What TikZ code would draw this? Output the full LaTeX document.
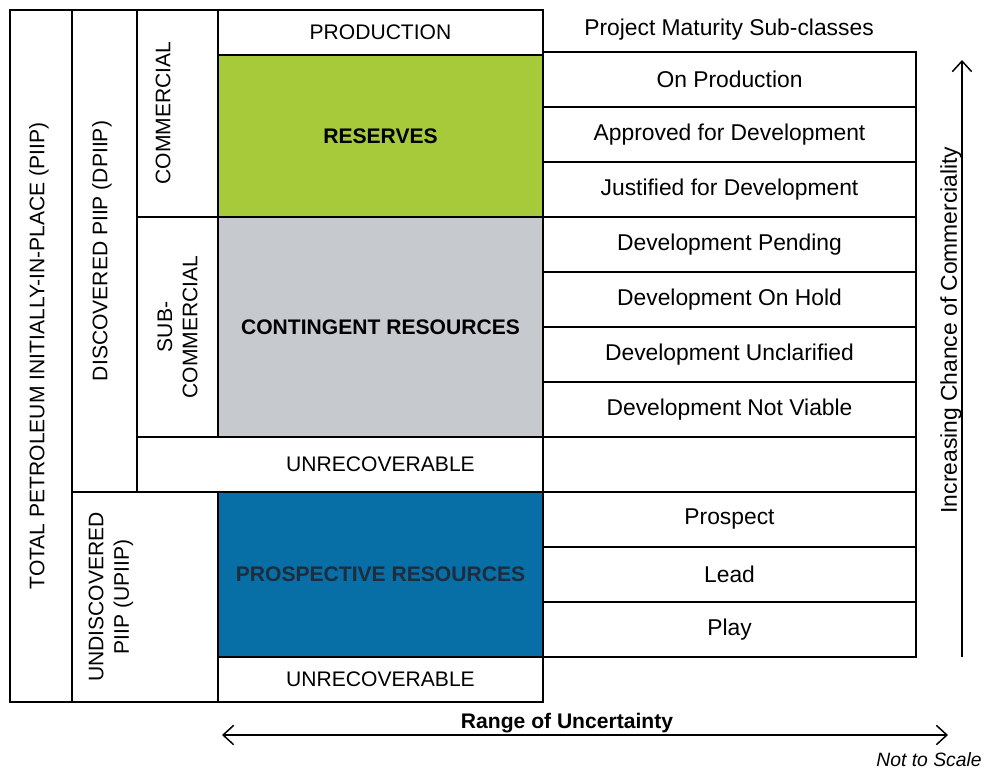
\documentclass[tikz,border=0pt]{standalone}
\usepackage{fontspec}
\setmainfont{Liberation Sans}
\usetikzlibrary{calc,positioning,fit,arrows.meta}

\definecolor{resgreen}{RGB}{166,202,58}
\definecolor{congrey}{RGB}{198,201,205}
\definecolor{prosblue}{RGB}{8,110,166}
\definecolor{prostext}{RGB}{30,45,60}

\tikzset{
cell/.style={draw,line width=0.85pt,inner sep=0pt},
lab/.style={font=\fontsize{12}{14}\selectfont},
blab/.style={font=\bfseries\fontsize{12}{14}\selectfont},
sublab/.style={font=\fontsize{13}{15}\selectfont},
vlab/.style={rotate=90,align=center,font=\fontsize{12}{14.5}\selectfont},
axis/.style={line width=0.85pt,{Straight Barb[length=6pt,width=11pt]}-{Straight Barb[length=6pt,width=11pt]}}
}

\begin{document}
\begin{tikzpicture}[x=0.02cm,y=-0.02cm]
\useasboundingbox (0,0) rectangle (986,771);
% left columns
\node(piip) [cell,fit={(10,10) (72,702)}] {};
\node(dpiip) [cell,fit={(72,10) (137,492)}] {};
\node(upiip) [cell,fit={(72,492) (218,702)}] {};
\node(comm) [cell,fit={(137,10) (218,217)}] {};
\node(subcomm) [cell,fit={(137,217) (218,437)}] {};
\node(unrec1) [cell,fit={(137,437) (543,492)}] {};
% resource classes
\node(prod) [cell,fit={(218,10) (543,55)}] {};
\node(reserves) [cell,fill=resgreen,fit={(218,55) (543,217)}] {};
\node(contingent) [cell,fill=congrey,fit={(218,217) (543,437)}] {};
\node(prospective) [cell,fill=prosblue,fit={(218,492) (543,657)}] {};
\node(unrec2) [cell,fit={(218,657) (543,702)}] {};
\node(prodtxt) at (prod) [lab] {PRODUCTION};
\node(reservestxt) at (reserves) [blab] {RESERVES};
\node(contingenttxt) at (contingent) [blab] {CONTINGENT RESOURCES};
\node(prospectivetxt) at (prospective) [blab,text=prostext] {PROSPECTIVE RESOURCES};
\node(unrec1txt) at (380.5,464.5) [lab] {UNRECOVERABLE};
\node(unrec2txt) at (unrec2) [lab] {UNRECOVERABLE};
% vertical labels
\node(piiptxt) at (39,356) [vlab] {TOTAL PETROLEUM INITIALLY-IN-PLACE (PIIP)};
\node(dpiiptxt) at (102,251) [vlab] {DISCOVERED PIIP (DPIIP)};
\node(upiiptxt) at (111,597) [vlab] {UNDISCOVERED\\PIIP (UPIIP)};
\node(commtxt) at (163,113) [vlab] {COMMERCIAL};
\node(subcommtxt) at (subcomm) [vlab] {SUB-\\COMMERCIAL};
% project maturity sub-classes
\node(maturity) at (729,30) [sublab] {Project Maturity Sub-classes};
\foreach \t [count=\i from 0] in {On Production,Approved for Development,Justified for Development,Development Pending,Development On Hold,Development Unclarified,Development Not Viable,{},Prospect,Lead,Play}
{
  \node(m\i) [cell,fit={(543,52+55*\i) (916,107+55*\i)}] {};
  \node(m\i txt) at (m\i) [sublab] {\t};
}
% axes
\coordinate(cbot) at (962,657);
\coordinate(ctop) at (962,60);
\coordinate(uleft) at (222,735);
\coordinate(uright) at (948,735);
\draw[line width=0.85pt,-{Straight Barb[length=6pt,width=11pt]}] (cbot) -- (ctop);
\draw[axis] (uleft) -- (uright);
\node(chance) at (951,330) [rotate=90,sublab] {Increasing Chance of Commerciality};
\node(range) at (567,723) [font=\bfseries\fontsize{12}{14}\selectfont] {Range of Uncertainty};
\node(scale) at (929,760) [font=\itshape\fontsize{11}{13}\selectfont] {Not to Scale};
\end{tikzpicture}
\end{document}
